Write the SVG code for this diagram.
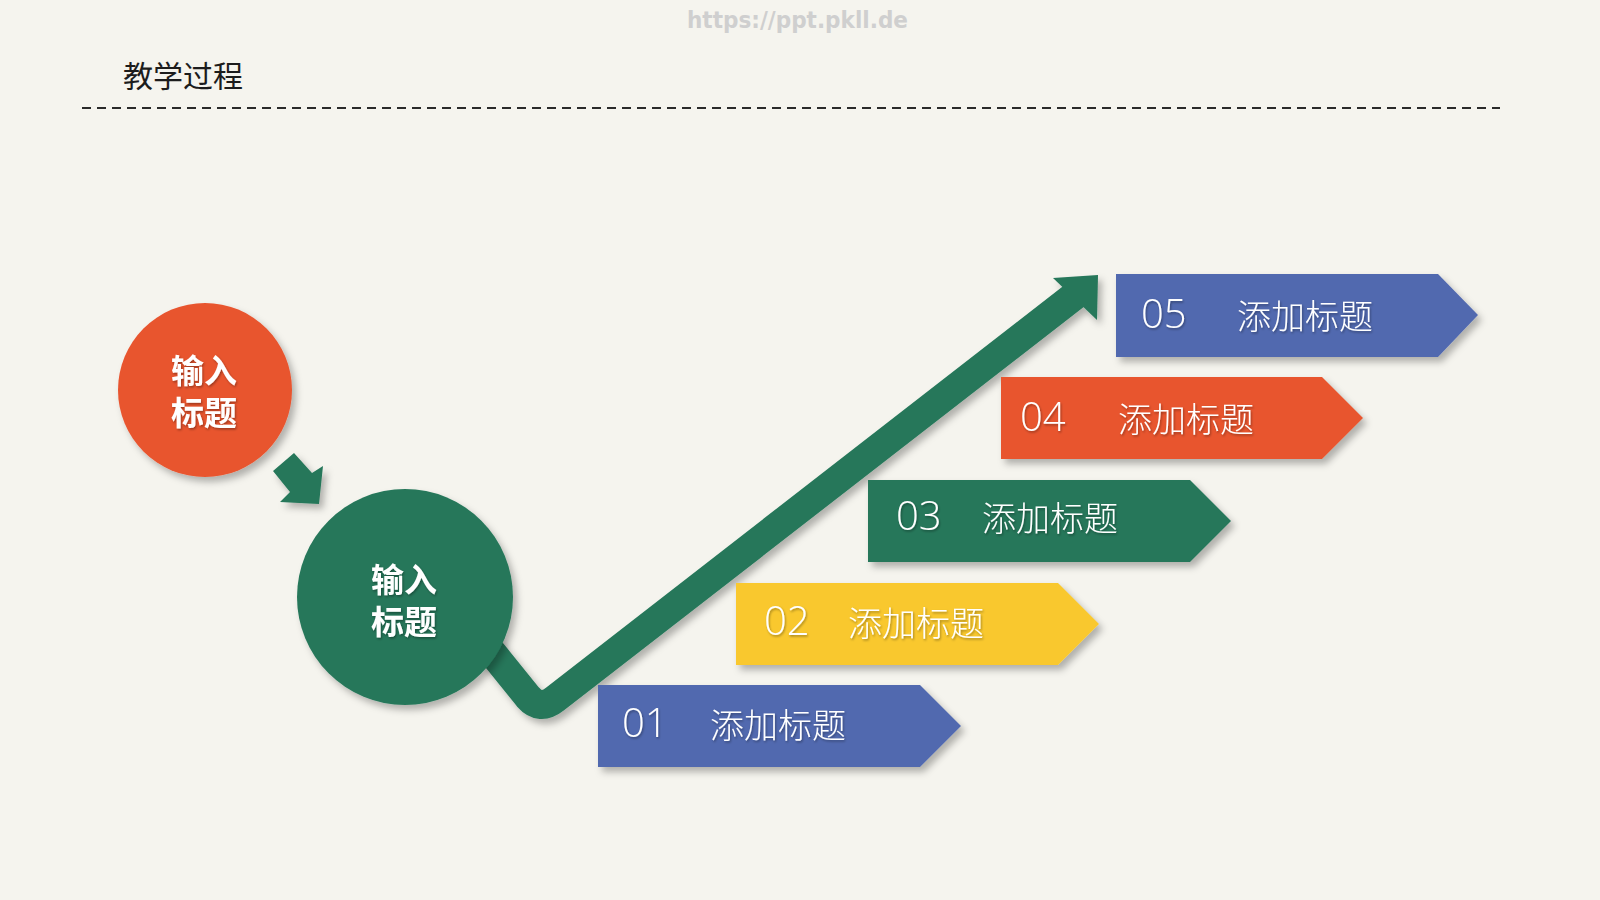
<svg xmlns="http://www.w3.org/2000/svg" width="1600" height="900" viewBox="0 0 1600 900">
  <defs>
    <filter id="sh" x="-20%" y="-20%" width="150%" height="150%">
      <feDropShadow dx="4" dy="5" stdDeviation="3.5" flood-color="#000" flood-opacity="0.28"/>
    </filter>
    <filter id="tsh" x="-10%" y="-20%" width="130%" height="150%">
      <feDropShadow dx="1" dy="1.5" stdDeviation="1" flood-color="#000" flood-opacity="0.35"/>
    </filter>
    <style>
      .bg { fill: #F5F4EE; }
      .title { font-family: "Noto Sans CJK SC", "Noto Sans", sans-serif; font-size: 30px; fill: #1c1c1c; }
      .wm { font-family: "DejaVu Sans", "Liberation Sans", sans-serif; font-weight: bold; font-size: 23px; fill: #cfcfcf; }
      .dash { stroke: #2a2a2a; stroke-width: 2; stroke-dasharray: 9 6; fill: none; }
      .circ-text { font-family: "Noto Sans CJK SC", "Noto Sans", sans-serif; font-weight: bold; font-size: 33px; fill: #ffffff; text-anchor: middle; }
      .num { font-family: "Open Sans", "Noto Sans", sans-serif; font-weight: 300; font-size: 40px; fill: #ffffff; }
      .lbl { font-family: "Noto Sans CJK SC", "Noto Sans", sans-serif; font-weight: 300; font-size: 34px; fill: #ffffff; }
      .green { fill: #26775A; }
      .orange { fill: #E8542F; }
      .blue { fill: #5169AF; }
      .yellow { fill: #F9C82F; }
      .band { fill: none; stroke: #26775A; stroke-width: 29; stroke-linejoin: round; }
    </style>
  </defs>

  <rect class="bg" x="0" y="0" width="1600" height="900"/>

  <text class="wm" x="687" y="28" textLength="221" lengthAdjust="spacingAndGlyphs">https://ppt.pkll.de</text>
  <text class="title" x="123" y="87">教学过程</text>
  <line class="dash" x1="82" y1="108" x2="1500" y2="108"/>

  <g id="connectors">
    <polygon class="green" filter="url(#sh)" points="294,453 312,473 323,466 319,504 280,502 290,492 273,471"/>
    <g filter="url(#sh)">
      <path class="band" d="M 473 629 L 528 697 Q 540 711 555 699 L 1078 293"/>
      <polygon class="green" points="1053,278 1098,275 1097,320"/>
    </g>
  </g>

  <g id="node-start">
    <circle class="orange" filter="url(#sh)" cx="205" cy="390" r="87"/>
    <text class="circ-text" filter="url(#tsh)"><tspan x="204" y="383">输入</tspan><tspan x="204" y="425">标题</tspan></text>
  </g>

  <g id="node-main">
    <circle class="green" filter="url(#sh)" cx="405" cy="597" r="108"/>
    <text class="circ-text" filter="url(#tsh)"><tspan x="404" y="592">输入</tspan><tspan x="404" y="634">标题</tspan></text>
  </g>

  <g id="step-01">
    <polygon class="blue" filter="url(#sh)" points="598,685 920,685 961,726 920,767 598,767"/>
    <text class="num" filter="url(#tsh)" x="622" y="737">01</text>
    <text class="lbl" filter="url(#tsh)" x="710" y="738">添加标题</text>
  </g>

  <g id="step-02">
    <polygon class="yellow" filter="url(#sh)" points="736,583 1058,583 1099,624 1058,665 736,665"/>
    <text class="num" filter="url(#tsh)" x="764" y="635">02</text>
    <text class="lbl" filter="url(#tsh)" x="848" y="636">添加标题</text>
  </g>

  <g id="step-03">
    <polygon class="green" filter="url(#sh)" points="868,480 1190,480 1231,521 1190,562 868,562"/>
    <text class="num" filter="url(#tsh)" x="896" y="530">03</text>
    <text class="lbl" filter="url(#tsh)" x="982" y="531">添加标题</text>
  </g>

  <g id="step-04">
    <polygon class="orange" filter="url(#sh)" points="1001,377 1322,377 1363,418 1322,459 1001,459"/>
    <text class="num" filter="url(#tsh)" x="1020" y="431">04</text>
    <text class="lbl" filter="url(#tsh)" x="1118" y="432">添加标题</text>
  </g>

  <g id="step-05">
    <polygon class="blue" filter="url(#sh)" points="1116,274 1438,274 1478,315 1438,357 1116,357"/>
    <text class="num" filter="url(#tsh)" x="1141" y="328">05</text>
    <text class="lbl" filter="url(#tsh)" x="1237" y="329">添加标题</text>
  </g>
</svg>
